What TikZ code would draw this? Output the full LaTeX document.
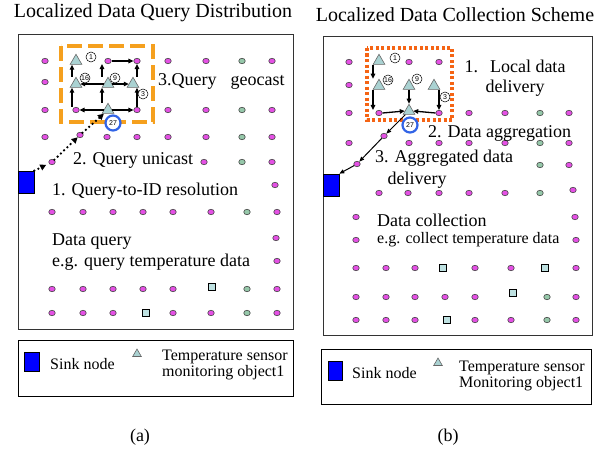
\documentclass[tikz,border=0pt]{standalone}
\usepackage{fontspec}
\setmainfont{Liberation Serif}
\newfontfamily\numfont{Liberation Sans}
\usetikzlibrary{shapes.geometric,arrows.meta}
\definecolor{dotpink}{RGB}{228,80,228}
\definecolor{dotgreen}{RGB}{150,200,170}
\definecolor{sensorfill}{RGB}{170,210,210}
\definecolor{sqfill}{RGB}{190,225,225}
\definecolor{sinkblue}{RGB}{0,0,255}
\definecolor{ringblue}{RGB}{50,100,230}
\definecolor{orangeA}{RGB}{245,160,30}
\definecolor{orangeB}{RGB}{245,100,20}
\begin{document}
\begin{tikzpicture}[x=1pt,y=-1pt,
    dot/.style={ellipse,draw=black!75,line width=0.6pt,fill=dotpink,minimum width=6.5pt,minimum height=5.5pt,inner sep=0pt},
    gdot/.style={dot,fill=dotgreen},
    sq/.style={rectangle,draw=black,line width=1.7pt,fill=sqfill,minimum size=7pt,inner sep=0pt},
    sensor/.style={regular polygon,regular polygon sides=3,draw=black!60,line width=0.6pt,fill=sensorfill,minimum size=13.5pt,inner sep=0pt},
    num/.style={circle,draw,line width=0.5pt,fill=white,minimum size=10pt,inner sep=0pt,font=\numfont\fontsize{7}{7}\selectfont},
    sink/.style={rectangle,draw=black,line width=0.6pt,fill=sinkblue,minimum width=16pt,minimum height=22pt,inner sep=0pt},
    lbl/.style={anchor=west,inner sep=0pt,font=\fontsize{18}{21}\selectfont},
    small/.style={font=\fontsize{16}{16}\selectfont},
    arr/.style={-{Triangle[length=5pt,width=4.5pt]},line width=1.3pt},
    barr/.style={-{Triangle[length=5pt,width=4pt]},line width=1pt},
    qarr/.style={-{Triangle[length=6pt,width=6pt]},line width=2.6pt,dash pattern=on 0pt off 4.5pt,line cap=round}]
\useasboundingbox (0,0) rectangle (612,452);

\node[font=\fontsize{20}{24}\selectfont] (titleA) at (153,13) {Localized Data Query Distribution};
\node[font=\fontsize{20}{24}\selectfont] (titleB) at (455,15) {Localized Data Collection Scheme};

\draw[line width=1pt,black!80] (18,35) rectangle (293,329);
\draw[line width=1pt,black!80] (323,37) rectangle (592,335);
\draw[draw=orangeA,line width=4pt,dash pattern=on 15pt off 6pt] (61,46) rectangle (153,122);
\draw[draw=orangeB,line width=4pt,dash pattern=on 3pt off 2.5pt] (367,48) rectangle (452,120);

\foreach \x/\y in {45/61,168/61,206/61,272/61,45/82,45/110,168/110,206/110,272/110,45/137,107/137,137/137,168/137,206/137,272/137,204/162,272/162,275/185,52/212,83/212,113/212,143/212,173/212,211/212,277/212,276/238,277/261,52/289,83/289,113/289,143/289,173/289,277/289,52/313,83/313,113/313,173/313,211/313,277/313}
  \node[dot] (a-\x-\y) at (\x,\y) {};
\foreach \x/\y in {242/61,242/110,242/137,242/162,247/212,247/289,247/313}
  \node[gdot] (a-\x-\y) at (\x,\y) {};
\node[sq] (aQ1) at (212,287) {};
\node[sq] (aQ2) at (146,313) {};

\foreach \x/\y in {349/62,349/85,349/113,469/113,505/113,569/113,349/143,409/143,439/143,469/143,505/143,569/143,569/165,379/193,408/193,439/193,469/193,505/193,573/190,356/217,575/217,356/240,576/240,356/268,386/268,415/268,475/268,511/268,576/268,356/297,386/297,415/297,445/297,475/297,576/297,356/320,386/320,415/320,475/320,511/320,576/320}
  \node[dot] (b-\x-\y) at (\x,\y) {};
\foreach \x/\y in {540/113,540/143,540/165,540/193,547/297,547/320}
  \node[gdot] (b-\x-\y) at (\x,\y) {};
\node[sq] (bQ1) at (443,268) {};
\node[sq] (bQ2) at (545,268) {};
\node[sq] (bQ3) at (513,293) {};
\node[sq] (bQ4) at (447,320) {};

\node[sensor] (aT1) at (76,61) {};
\node[dot] (aN1) at (108,61) {};
\node[dot] (aN2) at (137,61) {};
\node[sensor] (aT16) at (76,84) {};
\node[sensor] (aT9) at (108,84) {};
\node[sensor] (aT3) at (133,84) {};
\node[dot] (aN3) at (76,110) {};
\node[sensor] (aT27) at (108,110) {};
\node[dot] (aN4) at (137,110) {};
\node[dot] (aD4) at (80,135) {};
\node[dot] (aD5) at (52,162) {};
\node[sink] (sinkA) at (26,182) {};

\draw[arr] (aT27.west) -- (aN3.east);
\draw[arr] (aT27.east) -- (aN4.west);
\draw[arr] ([xshift=-4pt]aN3.north) -- ([xshift=-4pt]aT16.south);
\draw[arr] ([xshift=-4pt]aT16.north) -- ([xshift=-4pt]aT1.south);
\draw[arr] ([xshift=-6pt]aT27.north) -- ([xshift=-6pt]aT9.south);
\draw[arr] ([xshift=-6pt]aT9.north) -- ([xshift=-6pt]aN1.south);
\draw[arr] (aT9.west) -- (aT16.east);
\draw[arr] (aT9.east) -- (aT3.west);
\draw[arr] (aN1.east) -- (aN2.west);
\draw[arr] (aN4.north) -- (aN4.north |- aT3.south);
\draw[arr] (aN2.south |- aT3.north) -- (aN2.south);
\draw[qarr,shorten >=3pt] (sinkA.north east) -- (aD5);
\draw[qarr] (aD5) -- (aD4);
\draw[qarr] (aD4) -- (aT27);

\node[num] (aC1) at (91,57) {1};
\node[num] (aC16) at (85,78) {16};
\node[num] (aC9) at (115,78) {9};
\node[num] (aC3) at (143,94) {3};
\node[num,draw=ringblue,line width=2.2pt,minimum size=15pt] (aC27) at (113,123) {27};

\node[lbl] (aTxt3) at (158,81) {3.Query\hspace{14pt}geocast};
\node[lbl] (aTxt2) at (73,160) {2. Query unicast};
\node[lbl] (aTxt1) at (52,191) {1. Query-to-ID resolution};
\node[lbl] (aTxtQ) at (52,242) {Data query};
\node[lbl] (aTxtE) at (52,262) {e.g. query temperature data};

\node[sensor] (bT1) at (379,61) {};
\node[dot] (bN1) at (409,62) {};
\node[dot] (bN2) at (439,62) {};
\node[sensor] (bT16) at (379,86) {};
\node[sensor] (bT9) at (409,86) {};
\node[sensor] (bT3) at (434,86) {};
\node[dot] (bN3) at (379,113) {};
\node[sensor] (bT27) at (409,111) {};
\node[dot] (bN4) at (439,113) {};
\node[dot] (bD1) at (384,136) {};
\node[dot] (bD2) at (357,164) {};
\node[sink] (sinkB) at (331,185) {};

\draw[arr] ([xshift=-6pt]bT1.south) -- ([xshift=-6pt]bT16.north);
\draw[arr] ([xshift=-6pt]bT16.south) -- ([xshift=-6pt]bN3.north);
\draw[arr] (bT9.south) -- (bT27.north);
\draw[arr] (bT3.south -| bN4) -- (bN4.north);
\draw[arr] (bN3.east) -- (bT27.west);
\draw[arr] (bN4.west) -- (bT27.east);
\draw[barr] (bT27) -- (bD1);
\draw[barr] (bD1) -- (bD2);
\draw[barr] (bD2) -- (sinkB.north east);

\node[num] (bC1) at (395,58) {1};
\node[num] (bC16) at (388,80) {16};
\node[num] (bC9) at (417,79) {9};
\node[num] (bC3) at (445,97) {3};
\node[num,draw=ringblue,line width=2.2pt,minimum size=15pt] (bC27) at (410,125) {27};

\node[lbl,anchor=center,align=center,font=\fontsize{18}{20}\selectfont] (bTxt1) at (515,78) {1.\hspace{12pt}Local data\\delivery};
\node[lbl] (bTxt2) at (428,133) {2. Data aggregation};
\node[lbl,align=left,font=\fontsize{18}{22}\selectfont] (bTxt3) at (375,169) {3. Aggregated data\\\hspace*{12.5pt}delivery};
\node[lbl] (bTxtC) at (377,220) {Data collection};
\node[lbl,small] (bTxtE) at (377,240) {e.g. collect temperature data};

\draw[line width=0.8pt] (18,340) rectangle (293,396);
\node[sink,minimum width=15pt,minimum height=19pt] (legSinkA) at (31.5,361.5) {};
\node[lbl,small] (legSinkTxtA) at (50,364) {Sink node};
\node[sensor,minimum size=10pt] (legTriA) at (137,354) {};
\node[lbl,small,align=left] (legTxtA) at (162,365) {Temperature sensor\\monitoring object1};

\draw[line width=0.8pt] (321,349) rectangle (591,404);
\node[sink,minimum width=14pt,minimum height=19pt] (legSinkB) at (335,370.5) {};
\node[lbl,small] (legSinkTxtB) at (352,373) {Sink node};
\node[sensor,minimum size=10pt] (legTriB) at (438,363) {};
\node[lbl,small,align=left] (legTxtB) at (459,376) {Temperature sensor\\Monitoring object1};

\node[font=\fontsize{18}{18}\selectfont] (capA) at (140,437) {(a)};
\node[font=\fontsize{18}{18}\selectfont] (capB) at (448,437) {(b)};
\end{tikzpicture}
\end{document}
